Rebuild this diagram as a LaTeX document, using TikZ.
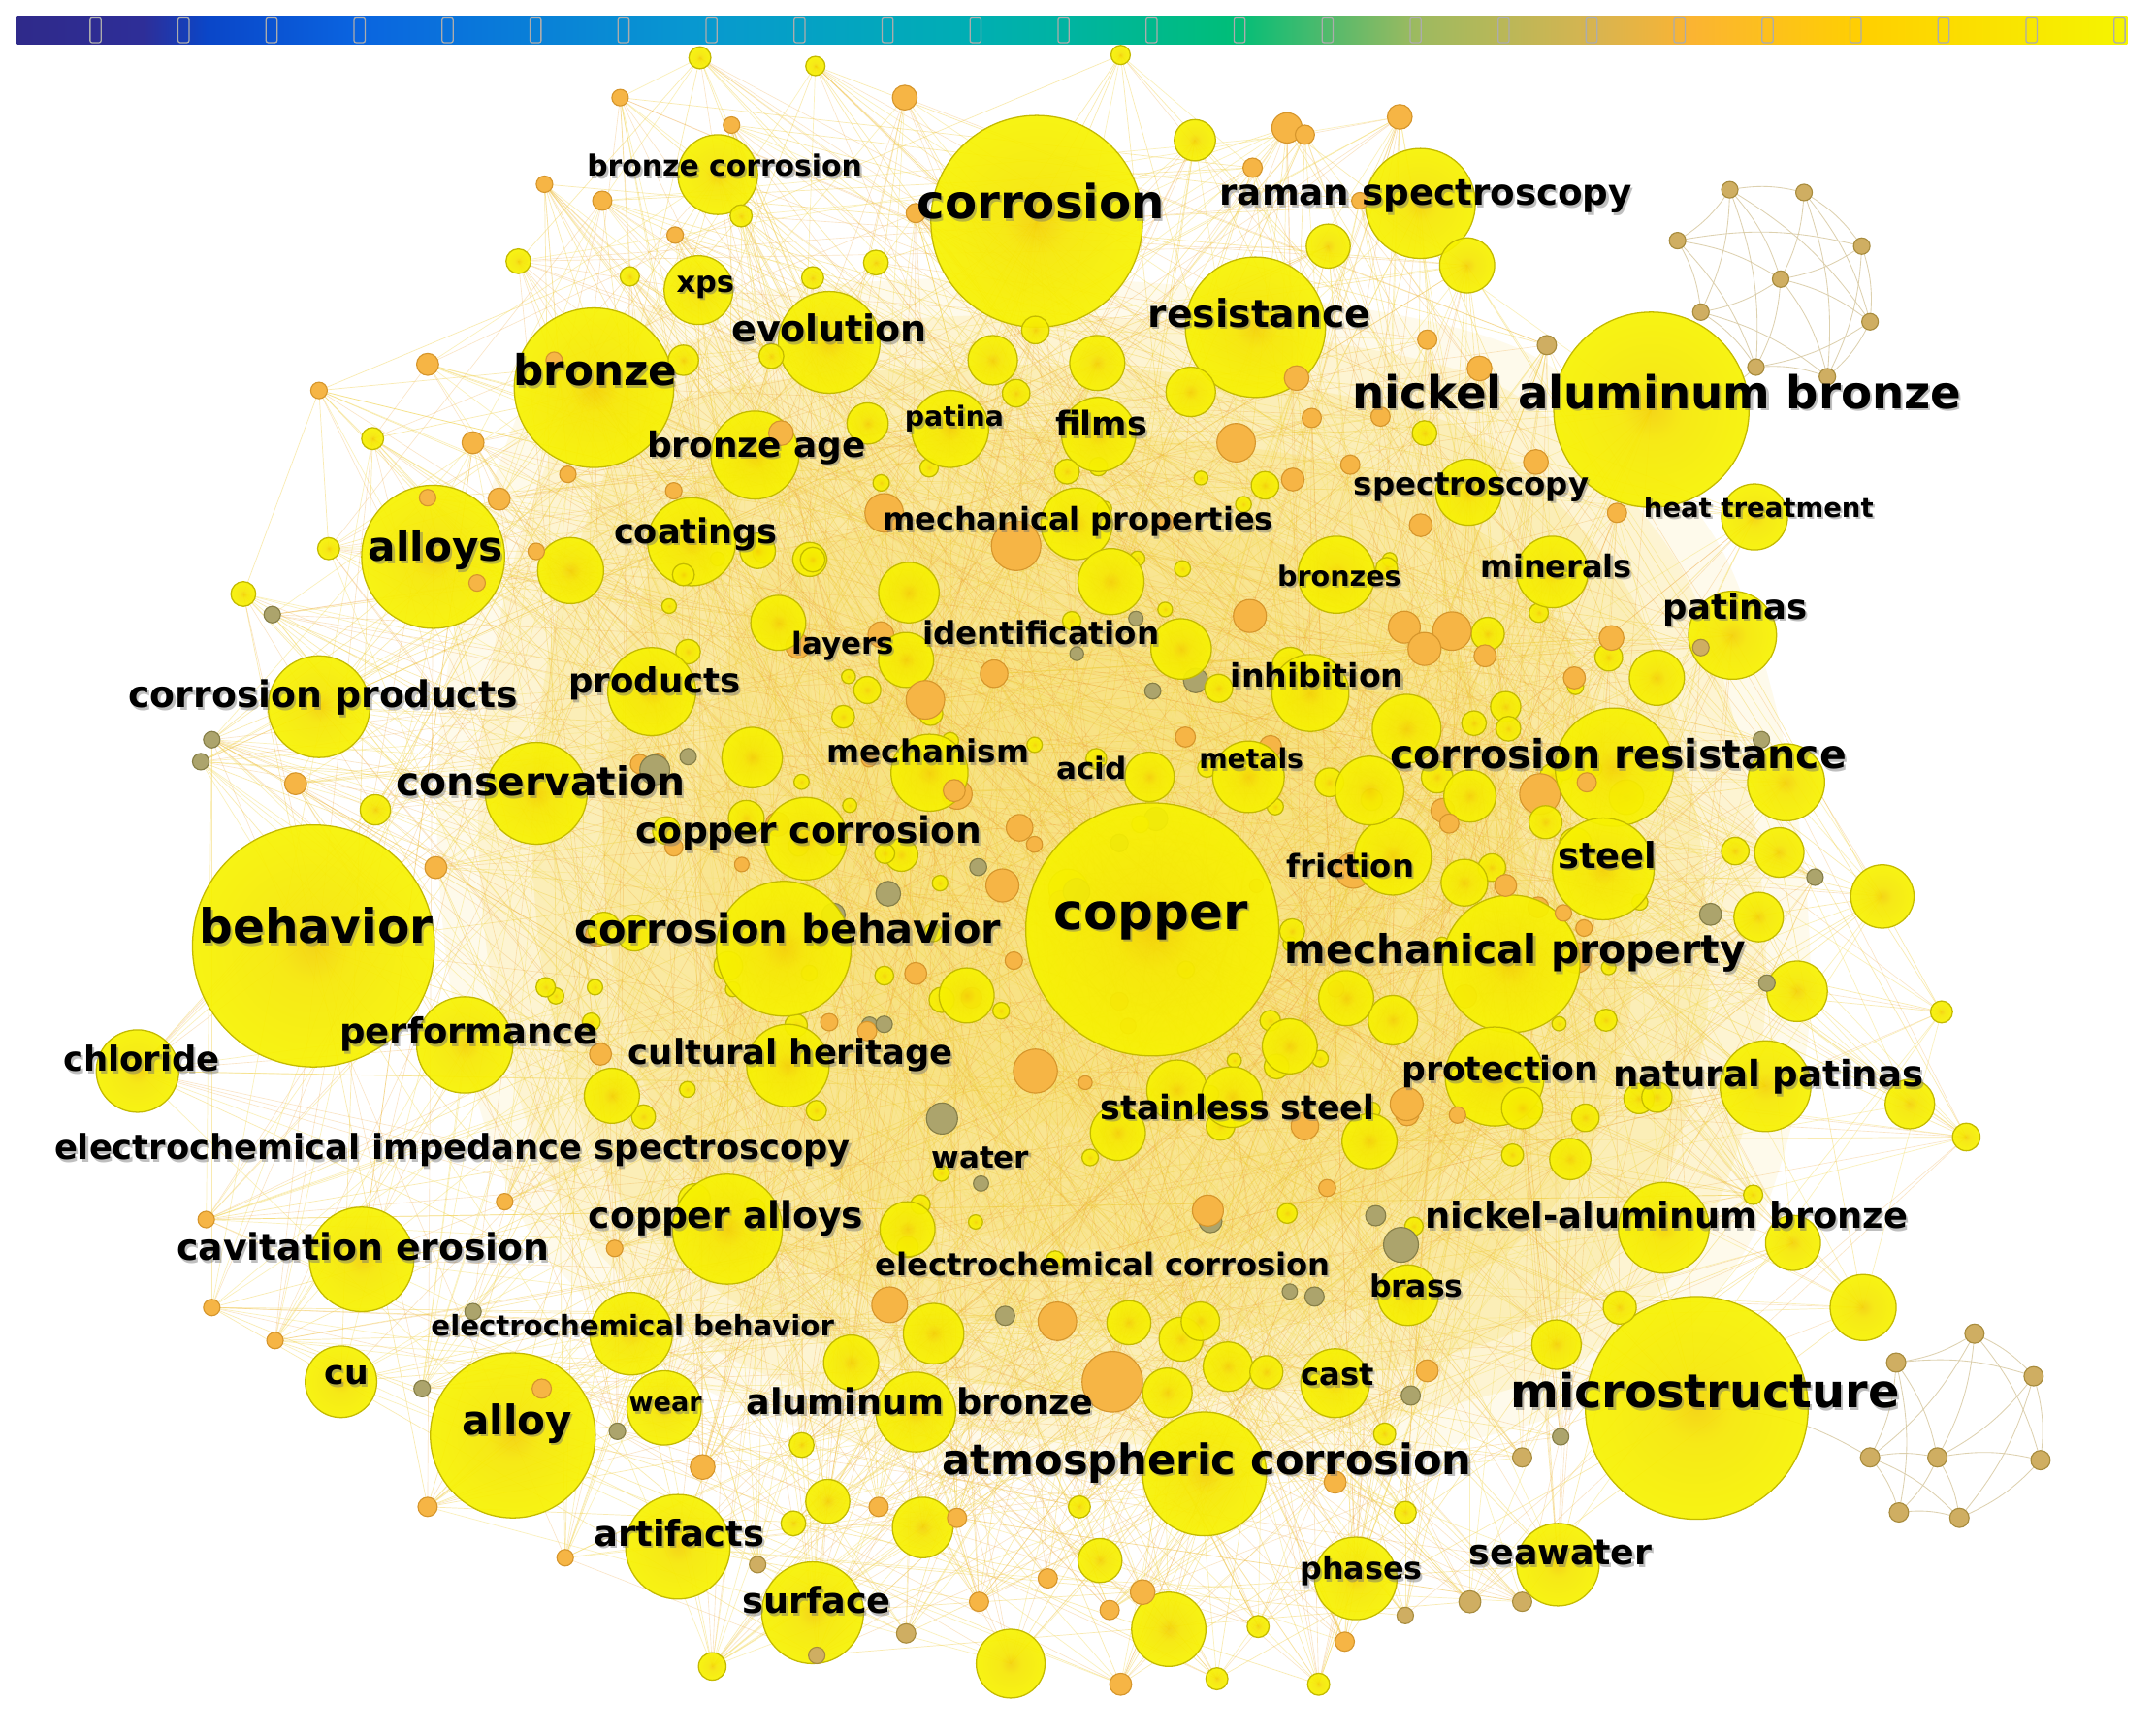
\documentclass[tikz,border=0pt]{standalone}
\usepackage{fontspec}
\setmainfont{DejaVu Sans}
\usepackage{graphicx}
\definecolor{bYin}{HTML}{F4D206}
\definecolor{bYmid}{HTML}{F6E804}
\definecolor{bYout}{HTML}{F7F300}
\definecolor{bYedge}{HTML}{C4BA00}
\definecolor{bOfill}{HTML}{F6B545}
\definecolor{bOedge}{HTML}{D6962C}
\definecolor{bTfill}{HTML}{CFAE62}
\definecolor{bTedge}{HTML}{A88C3E}
\definecolor{bGfill}{HTML}{ACA46C}
\definecolor{bGedge}{HTML}{867F48}
\definecolor{eA}{HTML}{F0CC3C}
\definecolor{eB}{HTML}{EEA030}
\definecolor{eC}{HTML}{F6E27A}
\definecolor{eT}{HTML}{D8C9A2}
\definecolor{blobIn}{HTML}{F7D440}
\definecolor{cb1}{HTML}{2F2A8A}
\definecolor{cb2}{HTML}{2E2E98}
\definecolor{cb3}{HTML}{0A46C8}
\definecolor{cb4}{HTML}{0A64E0}
\definecolor{cb5}{HTML}{0898D0}
\definecolor{cb6}{HTML}{00AEB4}
\definecolor{cb7}{HTML}{00B4A0}
\definecolor{cb8}{HTML}{00BE78}
\definecolor{cb9}{HTML}{50BA6C}
\definecolor{cb10}{HTML}{9CBA60}
\definecolor{cb11}{HTML}{D8B450}
\definecolor{cb12}{HTML}{FBB432}
\definecolor{cb13}{HTML}{FFD000}
\definecolor{cb14}{HTML}{F5F500}
\pgfdeclareradialshading{bubY}{\pgfpointorigin}{color(0bp)=(bYin); color(8bp)=(bYmid); color(26bp)=(bYout); color(50bp)=(bYout)}
\pgfdeclarehorizontalshading{cbar}{100bp}{color(0bp)=(cb1); color(25bp)=(cb1); color(28bp)=(cb2); color(29.5bp)=(cb3); color(33bp)=(cb4); color(41bp)=(cb5); color(47.5bp)=(cb6); color(50bp)=(cb7); color(53.85bp)=(cb8); color(56bp)=(cb9); color(58.1bp)=(cb10); color(62.4bp)=(cb11); color(64.7bp)=(cb12); color(68.8bp)=(cb13); color(75bp)=(cb14); color(100bp)=(cb14)}
\newsavebox\lblbox
\newcommand\lbl[5]{%
  \pgfinterruptpicture\global\setbox\lblbox=\hbox{\normalfont\fontsize{10}{12}\selectfont\bfseries #5}\endpgfinterruptpicture
  \pgfmathsetmacro\lsz{10*#4/\the\wd\lblbox}%
  \pgfmathsetmacro\ly{#3+0.22*\lsz+1}%
  \node[lblshadow,font=\fontsize{\lsz}{\lsz}\selectfont\bfseries] (s-#1) at ({#2+1.5},{\ly+1.8}) {#5};
  \node[lbltext,font=\fontsize{\lsz}{\lsz}\selectfont\bfseries] (l-#1) at (#2,\ly) {#5};
}
\def\blobpath{plot[smooth cycle] coordinates {(470,280) (700,250) (900,260) (1080,300) (1200,420) (1250,580) (1260,740) (1220,880) (1120,980) (900,1030) (700,1020) (540,970) (430,870) (380,720) (370,560) (400,400)}}
\def\Blist{754/161/77/yb, 432/282/58/yb, 315/405/52/yb, 228/688/88/yb, 838/676/92/yb, 1201/298/71/yb, 1234/1024/81/yb, 373/1044/60/yb, 913/238/51/yb, 876/1072/45/yb, 570/690/49/yb, 1099/701/50/yb, 1174/558/43/yb, 603/249/37/yb, 390/577/37/yb, 232/514/37/yb, 100/779/30/yb, 338/760/35/yb, 263/916/38/yb, 248/1005/26/yb, 529/894/40/yb, 459/970/30/yb, 483/1024/27/yb, 493/1125/38/yb, 591/1173/37/yb, 666/1027/29/yb, 1033/148/40/yb, 522/127/29/yb, 508/211/25/yb, 691/312/28/yb, 799/316/27/yb, 549/331/32/yb, 1068/358/24/yb, 1276/376/24/yb, 1129/416/26/yb, 1260/462/32/yb, 503/394/32/yb, 474/503/32/yb, 1166/632/37/yb, 1284/790/33/yb, 1087/783/36/yb, 573/775/30/yb, 1210/893/33/yb, 986/1148/30/yb, 1133/1138/30/yb, 971/1006/25/yb, 1024/942/22/yb, 972/418/28/yb, 953/504/28/yb, 908/565/26/yb, 676/562/28/yb, 586/610/30/yb, 1013/623/28/yb, 783/381/26/yb,
808/423/24/yb, 415/415/24/yb, 1355/951/24/yb, 1304/904/20/yb, 1299/569/28/yb, 1369/652/23/yb, 1307/721/22/yb, 1389/803/18/yb, 1294/620/18/yb, 1205/493/20/yb, 1279/667/18/yb, 273/589/11/yb, 445/797/20/yb, 966/179/16/yb, 1067/193/20/yb, 866/285/18/yb, 722/262/18/yb, 798/264/20/yb, 869/102/15/yb, 631/308/15/yb, 661/431/22/yb, 602/1092/16/yb, 671/1111/22/yb, 735/1210/25/yb, 800/1135/16/yb, 850/1185/27/yb, 679/970/22/yb, 619/991/20/yb, 660/894/20/yb, 849/1013/18/yb, 893/994/18/yb, 921/998/12/yb, 821/962/16/yb, 859/974/16/yb, 873/961/14/yb, 1132/978/18/yb, 1178/951/12/yb, 547/551/22/yb, 703/724/20/yb, 856/793/22/yb, 938/761/20/yb, 1013/742/18/yb, 979/726/20/yb, 996/575/25/yb, 1023/530/25/yb, 836/565/18/yb, 659/480/20/yb, 859/472/22/yb, 566/453/20/yb, 813/824/20/yb, 896/798/22/yb, 996/830/20/yb,
509/42/8/yb, 593/48/7/yb, 815/40/7/yb, 377/190/9/yb, 458/201/7/yb, 539/157/8/yb, 591/202/8/yb, 637/191/9/yb, 271/319/8/yb, 239/399/8/yb, 177/432/9/yb, 497/262/11/yb, 497/418/8/yb, 583/1051/9/yb, 577/1108/9/yb, 518/1212/10/yb, 785/1096/8/yb, 885/1221/8/yb, 915/1183/8/yb, 959/1225/8/yb, 1022/1100/8/yb, 1007/1043/8/yb, 1412/736/8/yb, 1430/827/10/yb, 1275/869/7/yb, 1168/742/8/yb, 1153/813/10/yb, 1192/799/11/yb, 1205/798/11/yb, 1107/806/15/yb, 1100/840/8/yb, 1142/843/15/yb, 1082/461/12/yb, 1095/514/11/yb, 1072/526/9/yb, 1097/530/9/yb, 1069/579/19/yb, 1124/598/12/yb, 1262/619/10/yb, 1085/631/10/yb, 1065/642/17/yb, 1170/478/10/yb, 920/353/10/yb, 1036/315/9/yb, 739/286/10/yb, 776/343/9/yb, 591/407/9/yb, 561/259/9/yb, 753/240/10/yb,
451/71/6/ob, 532/91/6/ob, 658/71/9/ob, 936/93/11/ob, 949/98/7/ob, 1018/85/9/ob, 911/122/7/ob, 989/146/6/ob, 666/155/7/ob, 396/134/6/ob, 438/146/7/ob, 491/171/6/ob, 311/265/8/ob, 232/284/6/ob, 344/322/8/ob, 413/345/6/ob, 311/362/6/ob, 363/363/8/ob, 390/401/6/ob, 347/424/6/ob, 490/357/6/ob, 215/570/8/ob, 317/631/8/ob, 150/887/6/ob, 154/951/6/ob, 200/975/6/ob, 311/1096/7/ob, 411/1133/6/ob, 394/1010/7/ob, 367/874/6/ob, 447/908/6/ob, 511/1067/9/ob, 639/1096/7/ob, 696/1104/7/ob, 712/1165/7/ob, 762/1148/7/ob, 807/1171/7/ob, 815/1225/8/ob, 831/1158/9/ob, 978/1194/7/ob, 971/1078/8/ob, 1038/997/8/ob, 943/275/9/ob, 954/304/7/ob, 899/322/14/ob, 1038/247/7/ob, 1004/303/7/ob, 982/338/7/ob, 568/315/9/ob, 1076/268/9/ob, 1117/336/9/ob, 1176/373/7/ob, 1056/459/14/ob, 1080/477/8/ob, 1145/493/8/ob, 1172/464/9/ob, 1154/569/7/ob, 1054/599/7/ob, 1152/675/6/ob, 1137/664/6/ob, 1095/644/8/ob, 1060/811/6/ob, 403/262/6/ob, 909/448/12/ob, 1036/472/12/ob, 1023/803/12/ob, 753/779/16/ob, 949/819/10/ob, 729/644/12/ob, 694/575/8/ob, 666/708/8/ob, 723/490/10/ob, 673/509/14/ob, 643/373/14/ob, 739/397/18/ob, 647/949/13/ob, 769/961/14/ob, 809/1005/22/ob,
1237/471/6/tb, 1281/538/6/gb, 1320/638/6/gb, 1244/665/8/gb, 1285/715/6/gb, 154/538/6/gb, 146/554/6/gb, 198/447/6/gb, 307/1010/6/gb, 344/954/6/gb, 449/1041/6/gb, 551/1138/6/tb, 659/1188/7/tb, 594/1204/6/tb, 1022/1175/6/tb, 1107/1060/7/tb, 1135/1045/6/gb, 1069/1165/8/tb, 1107/1165/7/tb, 731/957/7/gb, 956/943/7/gb, 1026/1015/7/gb, 1125/251/7/tb, 646/650/9/gb, 643/745/6/gb}
\def\TRlist{1258/138, 1312/140, 1220/175, 1354/179, 1295/203, 1237/227, 1360/234, 1277/267, 1329/274}
\def\BRlist{1436/970, 1379/991, 1479/1001, 1360/1060, 1409/1060, 1484/1062, 1381/1100, 1425/1104}
\begin{document}
\begin{tikzpicture}[x=1pt,y=-1pt,
  lbltext/.style={inner sep=0pt,anchor=mid,text=black},
  lblshadow/.style={inner sep=0pt,anchor=mid,text=black!55,opacity=0.45},
  yb/.style={shade,shading=bubY,fill opacity=0.92,draw=bYedge,line width=0.9pt},
  ob/.style={fill=bOfill,draw=bOedge,line width=0.8pt},
  tb/.style={fill=bTfill,draw=bTedge,line width=0.8pt},
  gb/.style={fill=bGfill,draw=bGedge,line width=0.8pt},
  edge1/.style={draw=eA,line width=0.5pt,opacity=0.4},
  edge2/.style={draw=eB,line width=0.45pt,opacity=0.28},
  edge3/.style={draw=eC,line width=0.5pt,opacity=0.5},
  cedge/.style={draw=eT,line width=0.6pt,opacity=0.85},
  tickmark/.style={draw=gray!65,line width=0.9pt,rounded corners=1.5pt}]
\fill[white] (0,0) rectangle (1568,1260);
\useasboundingbox (0,0) rectangle (1568,1260);
% colour bar
\shade[shading=cbar] (12.5,12) rectangle (1547,32);
\foreach \k in {0,...,23} \draw[tickmark] ({65.5+64*\k},13) rectangle ++(8,18);
% soft background density of the core
\foreach \s/\o in {1.12/0.10, 1.05/0.14, 0.96/0.18, 0.84/0.18, 0.68/0.16, 0.45/0.14}{
  \fill[blobIn,opacity=\o,shift={(800,650)},scale=\s,shift={(-800,-650)}] \blobpath;
}
% named centres
\foreach \x/\y/\r/\t [count=\i] in \Blist {\coordinate (c\i) at (\x,\y); \xdef\NC{\i}}
\foreach \x/\y [count=\i] in \TRlist {\coordinate (t\i) at (\x,\y);}
\foreach \x/\y [count=\i] in \BRlist {\coordinate (b\i) at (\x,\y);}
% connectors
\pgfmathsetseed{7}
\foreach \i in {1,...,\NC}{
  \foreach \k in {1,...,7}{
    \pgfmathrandominteger{\j}{1}{\NC}
    \pgfmathrandominteger{\e}{1}{3}
    \draw[edge\e] (c\i) -- (c\j);
  }
}
\foreach \a/\b in {1/2,1/3,1/5,1/6,1/8,2/4,2/5,2/7,2/9,3/5,3/6,3/8,4/5,4/7,4/9,5/6,5/7,5/8,5/9,6/8,6/9,7/9,7/8,3/4,1/7,8/9}
  \draw[cedge] (t\a) to[bend left=12] (t\b);
\foreach \a/\b in {1/2,1/3,1/4,1/5,2/4,2/5,2/7,3/5,3/6,3/8,4/5,4/7,5/6,5/7,5/8,6/8,7/8,2/3,1/6,4/8}
  \draw[cedge] (b\a) to[bend left=12] (b\b);
\draw[cedge] (t8) to[bend left=20] (c6);
\draw[cedge] (b4) to[bend right=15] (c7);
% filler bubbles in the dense core
\foreach \k in {1,...,150}{
  \pgfmathsetmacro\ang{360*rnd}
  \pgfmathsetmacro\rad{sqrt(rnd)}
  \pgfmathsetmacro\px{790+420*\rad*cos(\ang)}
  \pgfmathsetmacro\py{640+320*\rad*sin(\ang)}
  \pgfmathsetmacro\pr{5+11*rnd*rnd}
  \pgfmathrandominteger{\tt}{1}{20}
  \ifnum\tt<13 \def\st{yb}\else\ifnum\tt<19 \def\st{ob}\else\def\st{gb}\fi\fi
  \path[\st] (\px,\py) circle (\pr);
}
% listed bubbles
\foreach \x/\y/\r/\t in \Blist {\path[\t] (\x,\y) circle (\r);}
\foreach \x/\y in \TRlist {\path[tb] (\x,\y) circle (6);}
\foreach \x/\y in \BRlist {\path[tb] (\x,\y) circle (7);}
% labels
\lbl{bcor}{527}{120}{200}{bronze corrosion}
\lbl{corrosion}{757}{148}{180}{corrosion}
\lbl{raman}{1037}{140}{300}{raman spectroscopy}
\lbl{xps}{513}{204}{42}{xps}
\lbl{evolution}{603}{239}{142}{evolution}
\lbl{resistance}{916}{228}{162}{resistance}
\lbl{bronze}{433}{270}{119}{bronze}
\lbl{nab}{1205}{286}{443}{nickel aluminum bronze}
\lbl{patina}{694}{302}{72}{patina}
\lbl{films}{801}{308}{67}{films}
\lbl{bage}{550}{323}{159}{bronze age}
\lbl{spec}{1070}{351}{171}{spectroscopy}
\lbl{heat}{1279}{368}{167}{heat treatment}
\lbl{mprops}{784}{377}{284}{mechanical properties}
\lbl{alloys}{317}{398}{98}{alloys}
\lbl{coatings}{506}{386}{119}{coatings}
\lbl{bronzes}{974}{418}{90}{bronzes}
\lbl{minerals}{1132}{411}{110}{minerals}
\lbl{patinas}{1262}{441}{105}{patinas}
\lbl{layers}{613}{467}{74}{layers}
\lbl{ident}{757}{460}{172}{identification}
\lbl{inhib}{958}{491}{126}{inhibition}
\lbl{cprod}{235}{505}{283}{corrosion products}
\lbl{products}{476}{495}{125}{products}
\lbl{mech}{675}{546}{147}{mechanism}
\lbl{acid}{794}{558}{51}{acid}
\lbl{metals}{910}{551}{76}{metals}
\lbl{cres}{1177}{549}{332}{corrosion resistance}
\lbl{cons}{393}{569}{210}{conservation}
\lbl{ccor}{588}{604}{252}{copper corrosion}
\lbl{friction}{982}{629}{93}{friction}
\lbl{steel}{1169}{622}{72}{steel}
\lbl{behavior}{230}{675}{170}{behavior}
\lbl{cbeh}{573}{676}{310}{corrosion behavior}
\lbl{copper}{837}{664}{141}{copper}
\lbl{mprop}{1102}{691}{335}{mechanical property}
\lbl{perf}{341}{750}{188}{performance}
\lbl{chloride}{103}{770}{114}{chloride}
\lbl{cult}{575}{765}{236}{cultural heritage}
\lbl{prot}{1091}{777}{143}{protection}
\lbl{natp}{1286}{781}{226}{natural patinas}
\lbl{sst}{900}{805}{199}{stainless steel}
\lbl{eis}{329}{834}{579}{electrochemical impedance spectroscopy}
\lbl{water}{713}{841}{71}{water}
\lbl{calloys}{528}{884}{200}{copper alloys}
\lbl{nabh}{1212}{884}{351}{nickel-aluminum bronze}
\lbl{cav}{264}{907}{271}{cavitation erosion}
\lbl{ecor}{802}{919}{331}{electrochemical corrosion}
\lbl{brass}{1030}{935}{68}{brass}
\lbl{ebeh}{460}{963}{293}{electrochemical behavior}
\lbl{cu}{252}{998}{32}{cu}
\lbl{cast}{973}{999}{53}{cast}
\lbl{micro}{1240}{1013}{283}{microstructure}
\lbl{wear}{484}{1019}{53}{wear}
\lbl{albr}{669}{1019}{252}{aluminum bronze}
\lbl{alloy}{376}{1033}{80}{alloy}
\lbl{atm}{878}{1062}{385}{atmospheric corrosion}
\lbl{artif}{494}{1115}{124}{artifacts}
\lbl{phases}{990}{1140}{89}{phases}
\lbl{seawater}{1135}{1129}{133}{seawater}
\lbl{surface}{594}{1164}{108}{surface}
\end{tikzpicture}
\end{document}
